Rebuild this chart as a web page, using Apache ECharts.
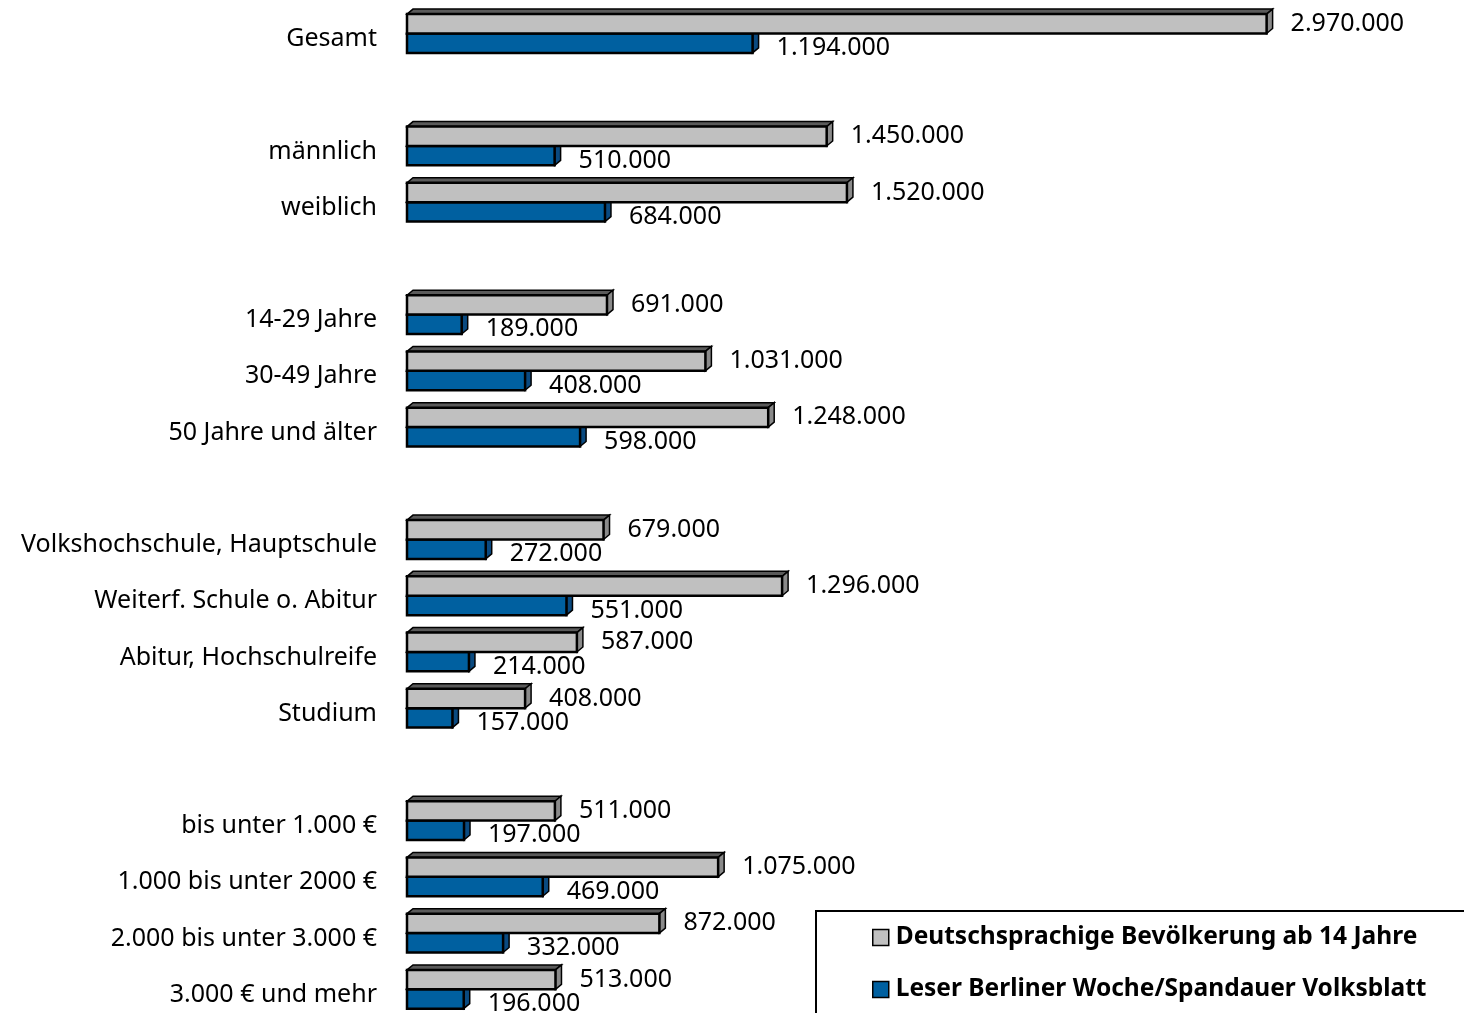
<!DOCTYPE html>
<html><head><meta charset="utf-8">
<script src="https://cdn.jsdelivr.net/npm/echarts@6/dist/echarts.min.js"></script>
<style>html,body{margin:0;padding:0;background:#fff;overflow:hidden}#c{width:1464px;height:1030px}</style>
</head><body><div id="c"></div>
<script>
const categories = ['Gesamt','','männlich','weiblich','','14-29 Jahre','30-49 Jahre','50 Jahre und älter','','Volkshochschule, Hauptschule','Weiterf. Schule o. Abitur','Abitur, Hochschulreife','Studium','','bis unter 1.000 €','1.000 bis unter 2000 €','2.000 bis unter 3.000 €','3.000 € und mehr'];
const bevoelkerung = [2970000,null,1450000,1520000,null,691000,1031000,1248000,null,679000,1296000,587000,408000,null,511000,1075000,872000,513000];
const leser = [1194000,null,510000,684000,null,189000,408000,598000,null,272000,551000,214000,157000,null,197000,469000,332000,196000];
const seriesNames = ['Deutschsprachige Bevölkerung ab 14 Jahre','Leser Berliner Woche/Spandauer Volksblatt'];

const fmt = v => v.toString().replace(/\B(?=(\d{3})+(?!\d))/g, '.');
const FONT = 'Noto Sans';
const toData = arr => arr.map((v, i) => v == null ? null : [v, i]).filter(d => d);

function makeRender(upper, front, side, top) {
  return function (params, api) {
    const v = api.value(0), cat = api.value(1);
    const p0 = api.coord([0, cat]), p1 = api.coord([v, cat]);
    const band = api.size([0, 1])[1];
    const h = band * 0.345;
    const x0 = p0[0], x1 = p1[0];
    const y0 = upper ? p0[1] - h : p0[1];
    const dx = 6, dy = 5;
    const ls = { stroke: '#000', lineWidth: 1.5, lineJoin: 'miter' };
    return {
      type: 'group',
      children: [
        { type: 'polygon', shape: { points: [[x0, y0], [x0 + dx, y0 - dy], [x1 + dx, y0 - dy], [x1, y0]] },
          style: Object.assign({ fill: top }, ls) },
        { type: 'polygon', shape: { points: [[x1, y0], [x1 + dx, y0 - dy], [x1 + dx, y0 + h - dy], [x1, y0 + h]] },
          style: Object.assign({ fill: side }, ls) },
        { type: 'rect', shape: { x: x0, y: y0, width: x1 - x0, height: h },
          style: { fill: front, stroke: '#000', lineWidth: 2.5 } },
        { type: 'text', x: x1 + 24, y: upper ? y0 + h / 2 : y0 + h / 2 + 5,
          style: { text: fmt(v), fill: '#000', font: '25px "' + FONT + '"', align: 'left', verticalAlign: 'middle' } }
      ]
    };
  };
}

const chart = echarts.init(document.getElementById('c'));
chart.setOption({
  animation: false,
  backgroundColor: '#fff',
  textStyle: { fontFamily: FONT },
  grid: { left: 407, width: 1013, top: 5.4, height: 1012, containLabel: false },
  xAxis: { type: 'value', min: 0, max: 3500000, show: false, splitLine: { show: false } },
  yAxis: {
    type: 'category', data: categories, inverse: true,
    axisLine: { show: false }, axisTick: { show: false },
    axisLabel: { color: '#000', fontSize: 25, margin: 30, fontFamily: FONT, verticalAlign: 'top', lineHeight: 11 }
  },
  graphic: [{
    type: 'rect', left: 815, top: 910, shape: { width: 700, height: 200 },
    style: { fill: '#fff', stroke: '#000', lineWidth: 2 }, z: 10
  }],
  legend: {
    orient: 'vertical', left: 872, top: 925, height: 200, z: 20,
    padding: 0, itemGap: 27,
    itemWidth: 16, itemHeight: 16, icon: 'rect',
    textStyle: { fontSize: 24.5, fontWeight: 'bold', color: '#000', fontFamily: FONT, padding: [0, 0, 0, 2] },
    itemStyle: { borderColor: '#000', borderWidth: 1.5 },
    data: seriesNames
  },
  series: [
    {
      name: seriesNames[0], type: 'custom', z: 3,
      data: toData(bevoelkerung), encode: { x: 0, y: 1 },
      itemStyle: { color: '#C0C0C0' },
      renderItem: makeRender(true, '#C0C0C0', '#8A8A8A', '#5A5A5A')
    },
    {
      name: seriesNames[1], type: 'custom', z: 2,
      data: toData(leser), encode: { x: 0, y: 1 },
      itemStyle: { color: '#0060A0' },
      renderItem: makeRender(false, '#0060A0', '#0A4A80', '#0B3D66')
    }
  ]
});
</script></body></html>
